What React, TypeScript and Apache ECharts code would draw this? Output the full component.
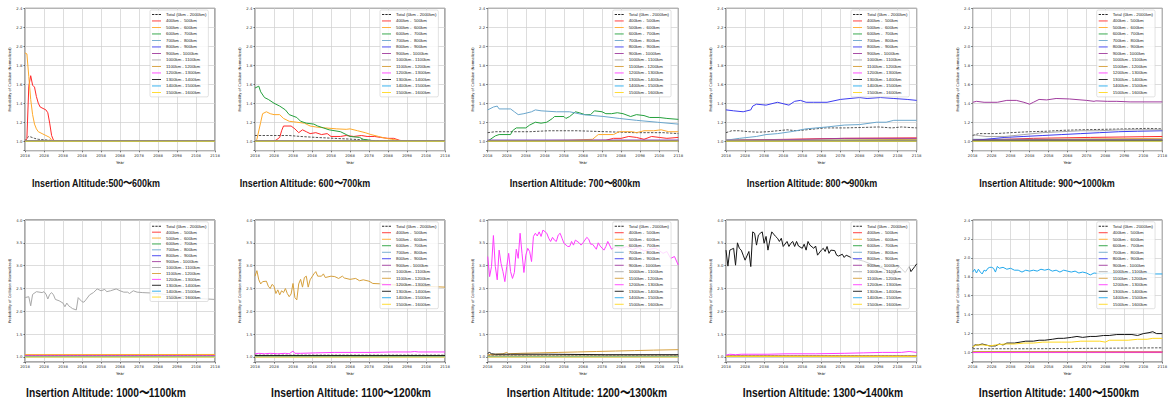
import React, { useEffect, useRef } from 'react';
import * as echarts from 'echarts';

// ---------- labels ----------
const SERIES_NAMES = [
  'Total (0km - 2000km)',
  '400km -  500km',
  '500km -  600km',
  '600km -  700km',
  '700km -  800km',
  '800km -  900km',
  '900km - 1000km',
  '1000km - 1100km',
  '1100km - 1200km',
  '1200km - 1300km',
  '1300km - 1400km',
  '1400km - 1500km',
  '1500km - 1600km',
];
const SERIES_COLORS = [
  '#2a2a2a', '#ff2a2a', '#ffaa2a', '#24a03c', '#6aa6cc', '#3c3cf0', '#a03c9e',
  '#a8a8a8', '#d6a03c', '#ff3cff', '#151515', '#22a8ec', '#ffd820',
];
const PANEL_TITLES = [
  'Insertion Altitude:500〜600km',
  'Insertion Altitude: 600〜700km',
  'Insertion Altitude: 700〜800km',
  'Insertion Altitude: 800〜900km',
  'Insertion Altitude: 900〜1000km',
  'Insertion Altitude: 1000〜1100km',
  'Insertion Altitude: 1100〜1200km',
  'Insertion Altitude: 1200〜1300km',
  'Insertion Altitude: 1300〜1400km',
  'Insertion Altitude: 1400〜1500km',
];
const X_NAME = 'Year';
const Y_NAME = 'Probability of Collision (Normalized)';
const YEAR_MIN = 2018;
const YEAR_MAX = 2118;
const YEAR_STEP = 10;
const Y_RANGE_SMALL = [0.9, 2.4, 0.2];
const Y_RANGE_LARGE = [0.89, 4.0, 0.5];

// ---------- data: [year, normalized probability] ----------
const flat100 = [[2018, 1.0], [2118, 1.0]];
const flat101 = [[2018, 1.01], [2118, 1.01]];
const flat102 = [[2018, 1.02], [2118, 1.02]];
const flat103 = [[2018, 1.03], [2118, 1.03]];
const flat104 = [[2018, 1.04], [2118, 1.04]];

// Panel 1: 500-600km
const p1Total = [[2018, 1.0], [2019, 1.03], [2020, 1.05], [2021, 1.045], [2023, 1.03], [2025, 1.02], [2028, 1.015], [2031, 1.01], [2033, 1.0], [2118, 1.0]];
const p1Band400 = [[2018, 1.0], [2019, 1.03], [2020, 1.58], [2021, 1.69], [2022, 1.59], [2023, 1.57], [2024, 1.47], [2025, 1.4], [2026, 1.36], [2028, 1.34], [2029, 1.33], [2030, 1.3], [2031, 1.19], [2032, 1.06], [2033, 1.01], [2034, 1.0], [2118, 1.0]];
const p1Band500 = [[2018, 1.93], [2019, 1.92], [2020, 1.68], [2021, 1.44], [2022, 1.28], [2023, 1.18], [2024, 1.13], [2025, 1.1], [2027, 1.08], [2029, 1.06], [2031, 1.04], [2032, 1.01], [2033, 1.0], [2118, 1.0]];

// Panel 2: 600-700km
const p2Total = [[2018, 1.06], [2026, 1.06], [2036, 1.06], [2042, 1.05], [2050, 1.04], [2060, 1.03], [2070, 1.02], [2078, 1.01], [2087, 1.0], [2118, 1.0]];
const p2Band400 = [[2018, 1.0], [2027, 1.0], [2029, 1.01], [2031, 1.04], [2032, 1.11], [2033, 1.16], [2037, 1.16], [2039, 1.13], [2041, 1.09], [2043, 1.12], [2045, 1.1], [2047, 1.08], [2050, 1.09], [2053, 1.07], [2056, 1.08], [2058, 1.05], [2063, 1.05], [2066, 1.06], [2070, 1.05], [2074, 1.06], [2077, 1.05], [2081, 1.05], [2084, 1.04], [2088, 1.03], [2091, 1.03], [2094, 1.01], [2097, 1.0], [2118, 1.0]];
const p2Band500 = [[2018, 1.0], [2019, 1.02], [2021, 1.2], [2022, 1.29], [2024, 1.31], [2026, 1.29], [2028, 1.28], [2031, 1.28], [2033, 1.24], [2036, 1.21], [2040, 1.2], [2044, 1.19], [2047, 1.16], [2050, 1.15], [2055, 1.14], [2061, 1.13], [2066, 1.125], [2068, 1.13], [2072, 1.11], [2076, 1.09], [2079, 1.07], [2083, 1.05], [2087, 1.03], [2090, 1.02], [2093, 1.01], [2097, 1.0], [2118, 1.0]];
const p2Band600 = [[2018, 1.56], [2020, 1.58], [2021, 1.52], [2023, 1.46], [2025, 1.44], [2028, 1.4], [2031, 1.37], [2034, 1.33], [2036, 1.28], [2040, 1.25], [2042, 1.21], [2045, 1.19], [2049, 1.18], [2051, 1.16], [2054, 1.14], [2057, 1.12], [2063, 1.1], [2066, 1.07], [2068, 1.05], [2073, 1.04], [2075, 1.02], [2082, 1.0], [2118, 1.0]];

// Panel 3: 700-800km
const p3Total = [[2018, 1.09], [2022, 1.1], [2030, 1.1], [2040, 1.1], [2050, 1.11], [2065, 1.11], [2080, 1.1], [2095, 1.09], [2110, 1.09], [2118, 1.08]];
const p3Band400 = [[2018, 1.0], [2080, 1.01], [2084, 1.03], [2088, 1.03], [2092, 1.05], [2096, 1.04], [2100, 1.02], [2104, 1.05], [2108, 1.04], [2112, 1.03], [2118, 1.04]];
const p3Band500 = [[2018, 1.0], [2060, 1.01], [2073, 1.02], [2076, 1.07], [2084, 1.07], [2087, 1.1], [2094, 1.1], [2096, 1.09], [2100, 1.11], [2105, 1.11], [2109, 1.12], [2113, 1.1], [2118, 1.1]];
const p3Band600 = [[2018, 1.0], [2022, 1.056], [2024, 1.07], [2030, 1.07], [2031, 1.11], [2033, 1.14], [2038, 1.14], [2040, 1.17], [2043, 1.2], [2046, 1.19], [2049, 1.2], [2052, 1.24], [2053, 1.26], [2058, 1.26], [2059, 1.24], [2061, 1.26], [2064, 1.31], [2066, 1.3], [2069, 1.28], [2072, 1.28], [2074, 1.32], [2078, 1.31], [2080, 1.29], [2083, 1.29], [2086, 1.3], [2089, 1.29], [2093, 1.26], [2096, 1.28], [2100, 1.27], [2103, 1.25], [2108, 1.25], [2112, 1.24], [2118, 1.23]];
const p3Band700 = [[2018, 1.33], [2021, 1.36], [2023, 1.37], [2024, 1.34], [2030, 1.34], [2032, 1.31], [2034, 1.28], [2037, 1.29], [2041, 1.31], [2043, 1.33], [2046, 1.32], [2054, 1.31], [2061, 1.31], [2068, 1.28], [2079, 1.26], [2087, 1.24], [2096, 1.22], [2107, 1.2], [2118, 1.18]];

// Panel 4: 800-900km
const p4Total = [[2018, 1.09], [2021, 1.11], [2025, 1.11], [2030, 1.1], [2035, 1.095], [2040, 1.1], [2045, 1.11], [2050, 1.12], [2055, 1.11], [2060, 1.12], [2065, 1.13], [2070, 1.14], [2080, 1.14], [2090, 1.145], [2098, 1.15], [2105, 1.14], [2110, 1.15], [2118, 1.14]];
const p4Band400 = [[2018, 1.01], [2050, 1.02], [2080, 1.03], [2118, 1.035]];
const p4Band500 = [[2018, 1.0], [2070, 1.01], [2118, 1.02]];
const p4Band700 = [[2018, 1.01], [2025, 1.03], [2034, 1.05], [2039, 1.07], [2045, 1.08], [2052, 1.1], [2060, 1.13], [2071, 1.15], [2080, 1.17], [2088, 1.175], [2097, 1.2], [2102, 1.2], [2106, 1.22], [2118, 1.22]];
const p4Band800 = [[2018, 1.33], [2022, 1.32], [2027, 1.31], [2031, 1.33], [2032, 1.37], [2034, 1.39], [2039, 1.38], [2045, 1.41], [2051, 1.38], [2054, 1.42], [2057, 1.43], [2060, 1.41], [2064, 1.41], [2071, 1.41], [2078, 1.44], [2088, 1.46], [2092, 1.45], [2099, 1.46], [2106, 1.45], [2113, 1.44], [2118, 1.43]];
const p4Band900 = [[2018, 1.01], [2060, 1.02], [2080, 1.03], [2118, 1.03]];

// Panel 5: 900-1000km
const p5Total = [[2018, 1.06], [2021, 1.08], [2030, 1.08], [2038, 1.09], [2048, 1.1], [2057, 1.105], [2066, 1.115], [2075, 1.12], [2087, 1.125], [2100, 1.13], [2110, 1.135], [2118, 1.13]];
const p5Band400 = [[2018, 1.01], [2050, 1.03], [2080, 1.04], [2118, 1.05]];
const p5Band500 = [[2018, 1.0], [2060, 1.02], [2118, 1.03]];
const p5Band800 = [[2018, 1.01], [2025, 1.02], [2035, 1.04], [2045, 1.05], [2055, 1.06], [2065, 1.07], [2075, 1.08], [2085, 1.09], [2095, 1.1], [2105, 1.105], [2118, 1.11]];
const p5Band900 = [[2018, 1.41], [2020, 1.42], [2024, 1.41], [2031, 1.41], [2036, 1.43], [2041, 1.43], [2045, 1.41], [2048, 1.39], [2050, 1.41], [2053, 1.44], [2057, 1.435], [2062, 1.45], [2069, 1.445], [2078, 1.43], [2082, 1.42], [2083, 1.425], [2089, 1.42], [2094, 1.42], [2101, 1.414], [2118, 1.414]];
const p5Band1000 = [[2018, 1.07], [2021, 1.06], [2025, 1.05], [2035, 1.05], [2045, 1.07], [2055, 1.09], [2065, 1.1], [2075, 1.11], [2085, 1.11], [2095, 1.12], [2105, 1.12], [2118, 1.12]];

// Panel 6: 1000-1100km
const p6Band500 = [[2018, 1.05], [2118, 1.055]];
const p6Band1000 = [[2018, 2.3], [2020, 2.32], [2021, 2.12], [2022, 2.37], [2024, 2.43], [2027, 2.41], [2028, 2.43], [2029, 2.38], [2030, 2.27], [2031, 2.37], [2032, 2.41], [2033, 2.36], [2034, 2.26], [2036, 2.23], [2038, 2.18], [2039, 2.1], [2040, 2.18], [2041, 2.12], [2042, 2.09], [2043, 2.06], [2045, 2.03], [2046, 2.3], [2048, 2.21], [2049, 2.2], [2050, 2.25], [2052, 2.36], [2054, 2.41], [2056, 2.49], [2058, 2.45], [2060, 2.48], [2061, 2.43], [2063, 2.45], [2066, 2.49], [2068, 2.45], [2070, 2.42], [2072, 2.42], [2073, 2.39], [2075, 2.45], [2077, 2.42], [2080, 2.41], [2085, 2.4], [2090, 2.38], [2095, 2.35], [2100, 2.33], [2105, 2.3], [2110, 2.28], [2114, 2.27], [2118, 2.26]];

// Panel 7: 1100-1200km
const p7Band1100 = [[2018, 2.77], [2019, 2.89], [2020, 2.69], [2021, 2.6], [2022, 2.65], [2024, 2.66], [2025, 2.55], [2026, 2.5], [2027, 2.59], [2028, 2.55], [2029, 2.39], [2030, 2.47], [2031, 2.36], [2032, 2.45], [2033, 2.41], [2034, 2.5], [2035, 2.39], [2036, 2.32], [2037, 2.38], [2038, 2.61], [2039, 2.3], [2040, 2.25], [2041, 2.6], [2042, 2.7], [2043, 2.53], [2044, 2.74], [2045, 2.77], [2046, 2.53], [2047, 2.69], [2049, 2.82], [2050, 2.87], [2051, 2.77], [2053, 2.77], [2054, 2.82], [2055, 2.74], [2058, 2.77], [2060, 2.76], [2062, 2.72], [2064, 2.77], [2065, 2.73], [2068, 2.7], [2071, 2.72], [2073, 2.67], [2075, 2.69], [2078, 2.66], [2080, 2.61], [2085, 2.6], [2090, 2.58], [2100, 2.57], [2105, 2.55], [2118, 2.53]];
const p7Band1200 = [[2018, 1.07], [2020, 1.08], [2023, 1.07], [2026, 1.08], [2030, 1.07], [2034, 1.08], [2036, 1.07], [2038, 1.13], [2039, 1.08], [2042, 1.08], [2050, 1.09], [2060, 1.1], [2070, 1.1], [2080, 1.1], [2090, 1.11], [2100, 1.11], [2102, 1.12], [2104, 1.11], [2118, 1.11]];

// Panel 8: 1200-1300km
const p8Band1100 = [[2018, 1.05], [2022, 1.06], [2026, 1.07], [2028, 1.1], [2029, 1.07], [2035, 1.08], [2045, 1.09], [2055, 1.1], [2065, 1.11], [2075, 1.12], [2085, 1.13], [2095, 1.14], [2105, 1.15], [2118, 1.16]];
const p8Band1200 = [[2018, 3.2], [2019, 2.76], [2020, 2.98], [2021, 3.66], [2022, 2.98], [2023, 2.69], [2024, 3.34], [2025, 3.05], [2026, 2.87], [2027, 2.65], [2028, 2.98], [2029, 3.27], [2030, 2.87], [2031, 2.72], [2032, 2.85], [2033, 3.36], [2034, 3.16], [2035, 3.71], [2036, 3.27], [2037, 2.85], [2038, 3.23], [2039, 3.38], [2040, 3.31], [2041, 3.09], [2042, 3.64], [2043, 3.71], [2044, 3.65], [2045, 3.74], [2046, 3.64], [2047, 3.78], [2049, 3.71], [2050, 3.6], [2051, 3.53], [2052, 3.62], [2053, 3.56], [2054, 3.53], [2055, 3.67], [2056, 3.71], [2057, 3.6], [2058, 3.49], [2060, 3.42], [2061, 3.42], [2062, 3.53], [2063, 3.45], [2064, 3.56], [2066, 3.5], [2067, 3.45], [2068, 3.5], [2070, 3.62], [2071, 3.58], [2072, 3.47], [2073, 3.47], [2075, 3.36], [2076, 3.5], [2077, 3.43], [2079, 3.34], [2080, 3.42], [2081, 3.53], [2083, 3.36], [2085, 3.42], [2088, 3.38], [2091, 3.42], [2094, 3.35], [2097, 3.4], [2100, 3.32], [2103, 3.36], [2106, 3.38], [2108, 3.33], [2110, 3.27], [2112, 3.31], [2114, 3.16], [2116, 3.2], [2118, 3.01]];
const p8Band1300 = [[2018, 1.08], [2019, 1.1], [2020, 1.07], [2022, 1.06], [2030, 1.06], [2050, 1.06], [2080, 1.05], [2118, 1.05]];

// Panel 9: 1300-1400km
const p9Band1200 = [[2018, 1.04], [2020, 1.06], [2023, 1.05], [2026, 1.06], [2030, 1.06], [2040, 1.06], [2050, 1.07], [2065, 1.07], [2080, 1.08], [2090, 1.09], [2100, 1.1], [2110, 1.1], [2114, 1.12], [2118, 1.1]];
const p9Band1300 = [[2018, 3.34], [2019, 2.99], [2020, 3.34], [2021, 3.36], [2022, 3.38], [2023, 3.01], [2024, 3.5], [2025, 3.38], [2026, 3.34], [2027, 3.23], [2028, 3.12], [2030, 3.31], [2031, 2.98], [2032, 3.74], [2033, 3.71], [2034, 3.45], [2035, 3.67], [2036, 3.71], [2037, 3.74], [2038, 3.49], [2039, 3.64], [2040, 3.34], [2041, 3.56], [2042, 3.74], [2043, 3.69], [2044, 3.64], [2045, 3.6], [2046, 3.53], [2047, 3.6], [2048, 3.42], [2050, 3.53], [2051, 3.42], [2052, 3.49], [2053, 3.53], [2054, 3.42], [2055, 3.53], [2056, 3.43], [2058, 3.38], [2059, 3.47], [2060, 3.34], [2061, 3.53], [2062, 3.45], [2064, 3.38], [2065, 3.43], [2066, 3.23], [2068, 3.34], [2069, 3.38], [2070, 3.31], [2071, 3.42], [2072, 3.27], [2073, 3.34], [2075, 3.33], [2076, 3.23], [2077, 3.21], [2079, 3.25], [2080, 3.18], [2081, 3.23], [2085, 3.15], [2090, 3.1], [2095, 3.02], [2100, 2.95], [2104, 2.85], [2106, 2.8], [2107, 2.91], [2109, 2.98], [2110, 2.93], [2112, 2.85], [2114, 2.98], [2115, 2.87], [2117, 2.98], [2118, 3.04]];

// Panel 10: 1400-1500km
const p10Total = [[2018, 1.04], [2050, 1.04], [2118, 1.05]];
const p10Band1200 = [[2018, 1.0], [2118, 1.005]];
const p10Band1300 = [[2018, 1.05], [2019, 1.08], [2021, 1.08], [2023, 1.09], [2025, 1.08], [2027, 1.07], [2030, 1.07], [2032, 1.09], [2034, 1.08], [2036, 1.1], [2040, 1.1], [2043, 1.11], [2046, 1.12], [2050, 1.12], [2053, 1.13], [2056, 1.13], [2060, 1.14], [2063, 1.15], [2066, 1.15], [2070, 1.16], [2073, 1.17], [2076, 1.16], [2080, 1.17], [2083, 1.17], [2087, 1.18], [2090, 1.18], [2094, 1.19], [2098, 1.19], [2102, 1.19], [2105, 1.18], [2108, 1.2], [2111, 1.21], [2113, 1.22], [2115, 1.2], [2118, 1.2]];
const p10Band1400 = [[2018, 1.85], [2019, 1.88], [2020, 1.84], [2021, 1.88], [2022, 1.85], [2023, 1.83], [2024, 1.87], [2025, 1.86], [2026, 1.89], [2027, 1.9], [2028, 1.9], [2029, 1.89], [2030, 1.85], [2031, 1.91], [2032, 1.89], [2034, 1.9], [2036, 1.88], [2038, 1.89], [2040, 1.87], [2042, 1.87], [2044, 1.85], [2046, 1.87], [2048, 1.86], [2050, 1.87], [2052, 1.86], [2054, 1.88], [2056, 1.87], [2058, 1.88], [2060, 1.86], [2062, 1.87], [2064, 1.85], [2066, 1.87], [2068, 1.86], [2070, 1.85], [2072, 1.86], [2074, 1.84], [2076, 1.85], [2078, 1.84], [2080, 1.82], [2082, 1.84], [2086, 1.83], [2090, 1.84], [2095, 1.83], [2100, 1.84], [2105, 1.83], [2110, 1.84], [2114, 1.83], [2118, 1.83]];
const p10Band1500 = [[2018, 1.06], [2020, 1.08], [2024, 1.08], [2027, 1.07], [2030, 1.08], [2035, 1.09], [2040, 1.09], [2045, 1.1], [2050, 1.1], [2055, 1.11], [2065, 1.11], [2070, 1.11], [2075, 1.12], [2085, 1.12], [2088, 1.11], [2090, 1.13], [2100, 1.13], [2105, 1.14], [2110, 1.14], [2113, 1.15], [2118, 1.15]];

// series lists per panel, in legend order
const panel1Lines = [p1Total, p1Band400, p1Band500, flat100, flat100, flat100, flat100, flat100, flat100, flat100, flat100, flat100, flat100];
const panel2Lines = [p2Total, p2Band400, p2Band500, p2Band600, flat100, flat100, flat100, flat100, flat100, flat100, flat100, flat100, flat100];
const panel3Lines = [p3Total, p3Band400, p3Band500, p3Band600, p3Band700, flat101, flat101, flat100, flat100, flat100, flat100, flat100, flat100];
const panel4Lines = [p4Total, p4Band400, p4Band500, flat101, p4Band700, p4Band800, p4Band900, flat101, flat100, flat100, flat100, flat100, flat100];
const panel5Lines = [p5Total, p5Band400, p5Band500, flat101, flat102, p5Band800, p5Band900, p5Band1000, flat101, flat101, flat101, flat100, flat100];
const panel6Lines = [flat103, flat104, p6Band500, flat101, flat102, flat101, flat102, p6Band1000, flat101, flat102, flat101, flat101, flat100];
const panel7Lines = [flat104, flat101, flat102, flat101, flat101, flat101, flat101, flat102, p7Band1100, p7Band1200, flat103, flat101, flat100];
const panel8Lines = [flat103, flat101, flat102, flat101, flat101, flat101, flat101, flat102, p8Band1100, p8Band1200, p8Band1300, flat101, flat100];
const panel9Lines = [flat103, flat101, flat102, flat101, flat101, flat101, flat102, flat102, flat102, p9Band1200, p9Band1300, flat101, flat101];
const panel10Lines = [p10Total, flat100, flat101, flat101, flat101, flat101, flat101, flat101, flat101, p10Band1200, p10Band1300, p10Band1400, p10Band1500];
const PANEL_LINES = [panel1Lines, panel2Lines, panel3Lines, panel4Lines, panel5Lines, panel6Lines, panel7Lines, panel8Lines, panel9Lines, panel10Lines];

// ---------- layout ----------
const COL_LEFT = [25, 255, 487.7, 726, 972.7];
const COL_WIDTH = [190, 190, 190.6, 190.7, 189.6];
const ROW_TOP = [8.3, 220];
const ROW_HEIGHT = [142.4, 142];
const LEGEND_LEFT = [150, 380, 612.7, 851, 1096.7];
const LEGEND_TOP = [10, 221.8];
const LEGEND_GAP = [1.6, 1.6, 1.6, 1.6, 1.6, 1.0, 1.6, 1.6, 1.6, 1.6];
const TITLE_X = [96, 305, 575, 812, 1047, 106, 351, 587, 823, 1059];
const TITLE_Y = [183, 393];
const TITLE_SIZE = [11.5, 12.5];
const TITLE_SQUEEZE = [0.78, 0.82];

const TICK_FONT = 'DejaVu Sans';
const DASH_ICON = 'path://M0,0h2.8v1.1h-2.8z M4.1,0h2.8v1.1h-2.8z M8.2,0h2.8v1.1h-2.8z';
const LINE_ICON = 'path://M0,0h11v1.1h-11z';

function buildOption() {
  const grid: any[] = [];
  const xAxis: any[] = [];
  const yAxis: any[] = [];
  const legend: any[] = [];
  const series: any[] = [];
  const graphic: any[] = [];

  PANEL_LINES.forEach((lines, i) => {
    const row = i < 5 ? 0 : 1;
    const col = i % 5;
    const yr = i >= 5 && i < 9 ? Y_RANGE_LARGE : Y_RANGE_SMALL;
    const step = yr[2];
    grid.push({
      left: COL_LEFT[col], top: ROW_TOP[row], width: COL_WIDTH[col], height: ROW_HEIGHT[row],
      show: true, borderColor: '#2a2a2a', borderWidth: 0.8, backgroundColor: '#fff',
      containLabel: false, outerBoundsMode: 'none',
    });
    xAxis.push({
      type: 'value', gridIndex: i, min: YEAR_MIN, max: YEAR_MAX, interval: YEAR_STEP,
      name: X_NAME, nameLocation: 'middle', nameGap: 9.5,
      nameTextStyle: { fontSize: 3.9, color: '#222', fontFamily: TICK_FONT },
      axisLine: { show: false },
      axisTick: { show: true, length: 1.6, lineStyle: { color: '#222', width: 0.6 } },
      axisLabel: {
        fontSize: 3.8, color: '#333', margin: 2.6, fontFamily: TICK_FONT, showMinLabel: true, showMaxLabel: true,
        formatter: (v: number) => String(Math.round(v)),
      },
      splitLine: { show: true, lineStyle: { color: '#cfcfcf', width: 0.7 } },
    });
    yAxis.push({
      type: 'value', gridIndex: i, min: yr[0], max: yr[1], minInterval: step, maxInterval: step, splitNumber: 7,
      name: Y_NAME, nameLocation: 'middle', nameGap: 11.5,
      nameTextStyle: { fontSize: 3.6, color: '#222', fontFamily: TICK_FONT },
      axisLine: { show: false },
      axisTick: { show: true, length: 1.6, lineStyle: { color: '#222', width: 0.6 } },
      axisLabel: {
        fontSize: 3.8, color: '#333', margin: 2.6, fontFamily: TICK_FONT, showMinLabel: true, showMaxLabel: true,
        formatter: (v: number) => {
          const r = v / step;
          return Math.abs(r - Math.round(r)) > 1e-6 ? '' : v.toFixed(1);
        },
      },
      splitLine: { show: true, lineStyle: { color: '#cfcfcf', width: 0.7 } },
    });
    legend.push({
      orient: 'vertical', left: LEGEND_LEFT[col], top: LEGEND_TOP[row],
      itemWidth: 9, itemHeight: 4.4, itemGap: LEGEND_GAP[i],
      padding: [2, 2, 2, 2],
      backgroundColor: 'rgba(255,255,255,0.82)', borderColor: '#cccccc', borderWidth: 0.6, borderRadius: 1.5,
      selectedMode: false,
      itemStyle: { borderWidth: 0 },
      textStyle: { fontSize: 4.3, lineHeight: 4.9, color: '#222', fontFamily: 'Liberation Sans', padding: 0 },
      data: SERIES_NAMES.map((n, k) => ({ name: n, icon: k === 0 ? DASH_ICON : LINE_ICON })),
      z: 10,
    });
    lines.forEach((d, k) => {
      series.push({
        type: 'line', name: SERIES_NAMES[k], xAxisIndex: i, yAxisIndex: i, data: d,
        symbol: 'none', color: SERIES_COLORS[k], silent: true,
        lineStyle: { width: k === 0 ? 0.8 : 1, color: SERIES_COLORS[k], type: k === 0 ? [2.4, 1.4] : 'solid' },
        emphasis: { disabled: true },
      });
    });
    graphic.push({
      type: 'text', x: TITLE_X[i], y: TITLE_Y[row], silent: true,
      scaleX: TITLE_SQUEEZE[row], scaleY: 1,
      style: {
        text: PANEL_TITLES[i], fill: '#111',
        fontSize: TITLE_SIZE[row], fontWeight: 'bold',
        fontFamily: '"Liberation Sans", sans-serif',
        align: 'center', verticalAlign: 'middle',
      },
    });
  });

  return {
    animation: false,
    backgroundColor: '#ffffff',
    grid, xAxis, yAxis, legend, series, graphic,
  };
}

export default function App() {
  const ref = useRef<HTMLDivElement>(null);
  useEffect(() => {
    if (!ref.current) return;
    const chart = echarts.init(ref.current, null, { renderer: 'svg' });
    chart.setOption(buildOption() as any);
    return () => chart.dispose();
  }, []);
  return (
    <div
      ref={ref}
      style={{ position: 'absolute', left: 0, top: 0, width: 1169, height: 405, background: '#fff' }}
    />
  );
}
